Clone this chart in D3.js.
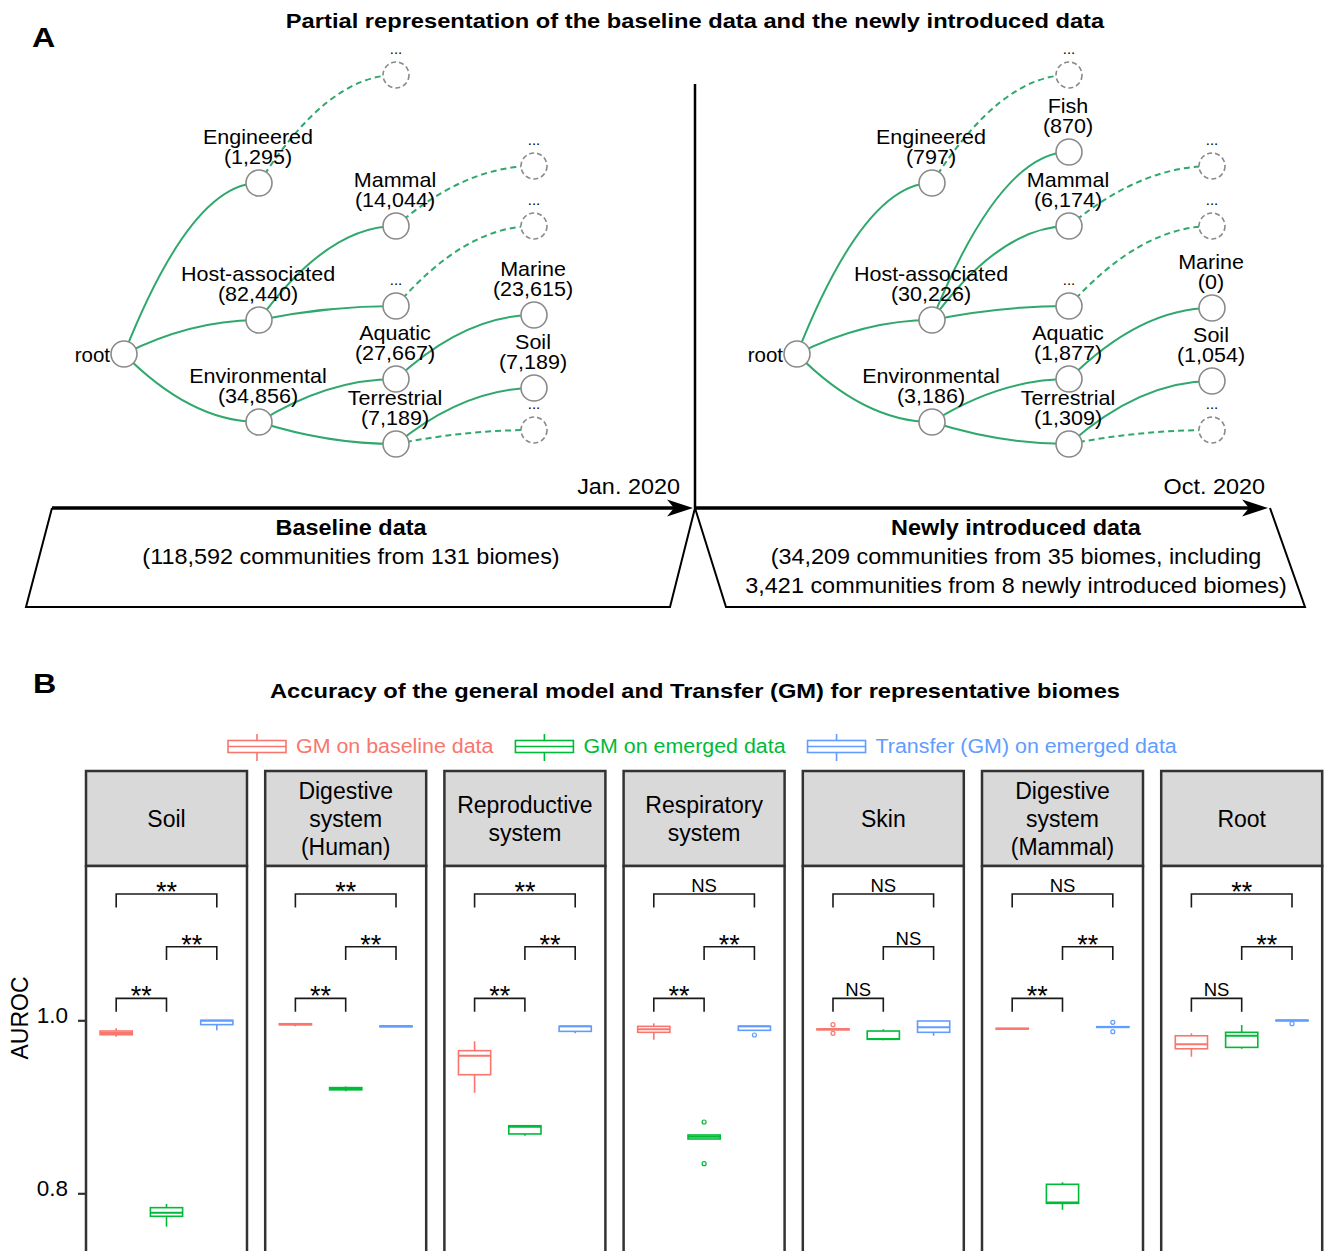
<!DOCTYPE html>
<html>
<head>
<meta charset="utf-8">
<script src="https://cdn.jsdelivr.net/npm/d3@7"></script>
<style>
    body { margin: 0; background: #fff; }
    svg text { font-family: "Liberation Sans", Arial, Helvetica, sans-serif; fill: #000; }
</style>
</head>
<body>
<div id="figure"></div>
<script>
"use strict"

/*
    two panel figure
    * A: baseline vs newly introduced biome trees + timeline
    * B: faceted AUROC boxplots with significance brackets
*/

// ---------- panel A data ----------
// [id, parent, depth, row, name, count, dashed]
const baselineTree = [
    ["root", null, 0, 354, "root", null, false],
    ["eng", "root", 1, 183, "Engineered", "1,295", false],
    ["host", "root", 1, 320, "Host-associated", "82,440", false],
    ["env", "root", 1, 422, "Environmental", "34,856", false],
    ["eng2", "eng", 2, 75, "...", null, true],
    ["mam", "host", 2, 226, "Mammal", "14,044", false],
    ["hdot", "host", 2, 306, "...", null, false],
    ["aqu", "env", 2, 379, "Aquatic", "27,667", false],
    ["ter", "env", 2, 444, "Terrestrial", "7,189", false],
    ["mam2", "mam", 3, 166, "...", null, true],
    ["hdot2", "hdot", 3, 226, "...", null, true],
    ["mar", "aqu", 3, 315, "Marine", "23,615", false],
    ["soil", "ter", 3, 388, "Soil", "7,189", false],
    ["ter2", "ter", 3, 430, "...", null, true],
]
const newTree = [
    ["root", null, 0, 354, "root", null, false],
    ["eng", "root", 1, 183, "Engineered", "797", false],
    ["host", "root", 1, 320, "Host-associated", "30,226", false],
    ["env", "root", 1, 422, "Environmental", "3,186", false],
    ["eng2", "eng", 2, 75, "...", null, true],
    ["fish", "host", 2, 152, "Fish", "870", false],
    ["mam", "host", 2, 226, "Mammal", "6,174", false],
    ["hdot", "host", 2, 306, "...", null, false],
    ["aqu", "env", 2, 379, "Aquatic", "1,877", false],
    ["ter", "env", 2, 444, "Terrestrial", "1,309", false],
    ["mam2", "mam", 3, 166, "...", null, true],
    ["hdot2", "hdot", 3, 226, "...", null, true],
    ["mar", "aqu", 3, 308, "Marine", "0", false],
    ["soil", "ter", 3, 381, "Soil", "1,054", false],
    ["ter2", "ter", 3, 430, "...", null, true],
]
const baselineDepthX = [124, 259, 396, 534]
const newDepthX = [797, 932, 1069, 1212]
const timelineDates = ["Jan. 2020", "Oct. 2020"]
const timelineHeads = ["Baseline data", "Newly introduced data"]
const timelineNotes = [
    ["(118,592 communities from 131 biomes)"],
    ["(34,209 communities from 35 biomes, including", "3,421 communities from 8 newly introduced biomes)"],
]

// ---------- panel B data ----------
const biomes = ["Soil", "Digestive\nsystem\n(Human)", "Reproductive\nsystem", "Respiratory\nsystem",
                "Skin", "Digestive\nsystem\n(Mammal)", "Root"]
const groups = ["GM on baseline data", "GM on emerged data", "Transfer (GM) on emerged data"]
const groupColors = ["#F8766D", "#00BA38", "#619CFF"]
// per biome: [baseline, emerged, transfer]
const boxMin = [
    [0.9810, 0.7614, 0.9884], [0.9930, 0.9180, 0.9922], [0.9163, 0.8666, 0.9850], [0.9775, 0.8628, 0.9884],
    [0.9890, 0.9769, 0.9821], [0.9899, 0.7810, 0.9918], [0.9579, 0.9671, 0.9997],
]
const boxQ1 = [
    [0.9833, 0.7734, 0.9950], [0.9948, 0.9196, 0.9925], [0.9371, 0.8686, 0.9872], [0.9861, 0.8628, 0.9884],
    [0.9890, 0.9780, 0.9861], [0.9899, 0.7884, 0.9918], [0.9671, 0.9687, 0.9997],
]
const boxMedian = [
    [0.9853, 0.7776, 0.9996], [0.9954, 0.9209, 0.9930], [0.9591, 0.8770, 0.9930], [0.9896, 0.8655, 0.9930],
    [0.9896, 0.9783, 0.9919], [0.9903, 0.7895, 0.9922], [0.9722, 0.9821, 1.0000],
]
const boxQ3 = [
    [0.9876, 0.7834, 1.0000], [0.9960, 0.9222, 0.9935], [0.9649, 0.8781, 0.9930], [0.9930, 0.8674, 0.9930],
    [0.9900, 0.9876, 0.9992], [0.9907, 0.8104, 0.9926], [0.9821, 0.9861, 1.0000],
]
const boxMax = [
    [0.9907, 0.7876, 1.0000], [0.9969, 0.9235, 0.9937], [0.9757, 0.8781, 0.9930], [0.9965, 0.8674, 0.9930],
    [0.9900, 0.9896, 0.9992], [0.9907, 0.8127, 0.9926], [0.9849, 0.9946, 1.0000],
]
const boxOutliers = [
    [[], [], []], [[], [], []], [[], [], []], [[], [0.8824, 0.8342], [0.9830]],
    [[0.9949, 0.9849], [], []], [[], [], [0.9977, 0.9868]], [[], [], [0.9961]],
]
// comparisons: baseline-emerged, emerged-transfer, baseline-transfer
const sigPairs = [[0, 1], [1, 2], [0, 2]]
const sigBarLevels = [1.0254, 1.0851, 1.1460]
const sigLabels = [
    ["**", "**", "**"], ["**", "**", "**"], ["**", "**", "**"], ["**", "**", "NS"],
    ["NS", "NS", "NS"], ["**", "**", "NS"], ["NS", "**", "**"],
]
const yTicks = [0.8, 1.0]

// ---------- setup ----------
const W = 1325, H = 1251
const treeGreen = "#2EA86C"
const nodeGray = "#8a8a8a"

const svg = d3.select("#figure")
    .append("svg")
        .attr("width", W)
        .attr("height", H)
        .attr("viewBox", `0 0 ${ W } ${ H }`)

// text helper: horizontally stretched text
function label(g, x, y, txt, opts = {}) {
    const o = Object.assign({ size: 20, weight: "normal", anchor: "middle", sx: 1, fill: "#000" }, opts)
    return g.append("text")
        .text(txt)
        .attr("text-anchor", o.anchor)
        .attr("font-size", o.size)
        .attr("font-weight", o.weight)
        .style("fill", o.fill)
        .attr("transform", `translate(${ x }, ${ y }) scale(${ o.sx }, 1)`)
}

// ---------- panel A ----------
const panelA = svg.append("g").attr("class", "panel-a")
label(panelA, 32, 47, "A", { size: 28, weight: "bold", anchor: "start", sx: 1.15 })
label(panelA, 695, 28, "Partial representation of the baseline data and the newly introduced data",
      { size: 20, weight: "bold", sx: 1.185 })

function drawTree(rows, depthX) {
    const x = d3.scaleOrdinal().domain([0, 1, 2, 3]).range(depthX)
    const y = d3.scaleLinear().domain([0, 500]).range([0, 500])
    const nodes = rows.map(r => ({ id: r[0], parent: r[1], depth: r[2], row: r[3], name: r[4], count: r[5], dashed: r[6] }))
    const byId = new Map(nodes.map(n => [n.id, n]))
    nodes.forEach(n => { n.x = x(n.depth); n.y = y(n.row) })
    const links = nodes.filter(n => n.parent).map(n => ({ source: byId.get(n.parent), target: n }))

    const g = panelA.append("g")
    const linkPath = d => {
        const p = d3.path()
        p.moveTo(d.source.x, d.source.y)
        p.quadraticCurveTo((d.source.x + d.target.x) / 2, d.target.y, d.target.x, d.target.y)
        return p.toString()
    }
    g.selectAll(".link")
        .data(links)
        .enter().append("path")
            .attr("class", "link")
            .attr("d", linkPath)
            .attr("fill", "none")
            .attr("stroke", treeGreen)
            .attr("stroke-width", 2)
            .attr("stroke-dasharray", d => d.target.dashed ? "6,4" : null)

    g.selectAll(".node")
        .data(nodes)
        .enter().append("circle")
            .attr("class", "node")
            .attr("cx", d => d.x)
            .attr("cy", d => d.y)
            .attr("r", 13)
            .attr("fill", "#fff")
            .attr("stroke", nodeGray)
            .attr("stroke-width", 1.6)
            .attr("stroke-dasharray", d => d.dashed ? "5,3" : null)

    nodes.forEach(n => {
        if (n.depth === 0) {
            label(g, n.x - 14, n.y + 7.5, n.name, { size: 20.5, anchor: "end" })
        } else if (n.count === null) {
            label(g, n.x, n.y - 21, n.name, { size: 15 })
        } else {
            label(g, n.x - 1, n.y - 39, n.name, { size: 20.5, sx: 1.05 })
            label(g, n.x - 1, n.y - 19, `(${ n.count })`, { size: 20.5, sx: 1.05 })
        }
    })
}
drawTree(baselineTree, baselineDepthX)
drawTree(newTree, newDepthX)

// divider + timeline
panelA.append("line")
    .attr("x1", 695).attr("x2", 695).attr("y1", 84).attr("y2", 508)
    .attr("stroke", "#000").attr("stroke-width", 2.5)

const timeline = [
    { outline: [[52, 508], [26, 607], [670, 607], [695, 508]], arrow: [52, 693], dateX: 680, cx: 351 },
    { outline: [[695, 508], [726, 607], [1305, 607], [1270, 508]], arrow: [695, 1268], dateX: 1265, cx: 1016 },
]
timeline.forEach((t, i) => {
    panelA.append("path")
        .attr("d", d3.line()(t.outline))
        .attr("fill", "none").attr("stroke", "#000").attr("stroke-width", 2)
    panelA.append("line")
        .attr("x1", t.arrow[0]).attr("x2", t.arrow[1] - 12)
        .attr("y1", 508).attr("y2", 508)
        .attr("stroke", "#000").attr("stroke-width", 3.5)
    const tip = t.arrow[1]
    panelA.append("path")
        .attr("d", d3.line()([[tip, 508], [tip - 26, 499.5], [tip - 19, 508], [tip - 26, 516.5]]) + "Z")
        .attr("fill", "#000")
    label(panelA, t.dateX, 494, timelineDates[i], { size: 21.5, anchor: "end", sx: 1.09 })
    label(panelA, t.cx, 535, timelineHeads[i], { size: 21.5, weight: "bold", sx: 1.09 })
    timelineNotes[i].forEach((line, j) => {
        label(panelA, t.cx, 564 + j * 28.5, line, { size: 21.5, sx: 1.09 })
    })
})

// ---------- panel B ----------
const panelB = svg.append("g").attr("class", "panel-b")
label(panelB, 33, 693, "B", { size: 28, weight: "bold", anchor: "start", sx: 1.15 })
label(panelB, 695, 698, "Accuracy of the general model and Transfer (GM) for representative biomes",
      { size: 20, weight: "bold", sx: 1.185 })

const frame = { stripTop: 771, stripBottom: 866, bottom: 1270 }
const y = d3.scaleLinear().domain([0.8, 1.0]).range([1193.3, 1020.3])
const facetX = d3.scaleBand().domain(d3.range(biomes.length)).range([86, 1322.2]).paddingInner(0.1016)
const groupX = d3.scalePoint().domain(d3.range(groups.length)).range([0, facetX.bandwidth()]).padding(0.6)
const boxW = groupX.step() * 0.64

// legend
const legend = panelB.append("g").attr("class", "legend")
let lx = 228
groups.forEach((name, i) => {
    const item = legend.append("g")
    const c = groupColors[i]
    item.append("line")
        .attr("x1", lx + 29).attr("x2", lx + 29).attr("y1", 734).attr("y2", 761)
        .attr("stroke", c).attr("stroke-width", 1.6)
    item.append("rect")
        .attr("x", lx).attr("y", 740.5).attr("width", 58).attr("height", 12)
        .attr("fill", "#fff").attr("stroke", c).attr("stroke-width", 1.6)
    item.append("line")
        .attr("x1", lx).attr("x2", lx + 58).attr("y1", 746.5).attr("y2", 746.5)
        .attr("stroke", c).attr("stroke-width", 1.6)
    const t = label(item, lx + 68, 752.5, name, { size: 20, anchor: "start", sx: 1.07, fill: c })
    lx += 68 + t.node().getComputedTextLength() * 1.07 + 22
})

// y axis
const yAxis = d3.axisLeft(y)
    .tickValues(yTicks)
    .tickFormat(d3.format(".1f"))
    .tickSize(8)
    .tickPadding(10)
const yAxG = panelB.append("g")
    .attr("class", "axis y-axis")
    .attr("transform", `translate(${ facetX(0) }, 0)`)
    .call(yAxis)
yAxG.select(".domain").remove()
yAxG.selectAll(".tick line").attr("stroke", "#333").attr("stroke-width", 2.2)
yAxG.selectAll(".tick text")
    .attr("font-size", 22.5)
    .attr("dy", "0.09em")
    .style("fill", "#000")

panelB.append("text")
    .text("AUROC")
    .attr("text-anchor", "middle")
    .attr("font-size", 23)
    .attr("transform", `translate(28, 1018) rotate(-90)`)

// facets
biomes.forEach((biome, i) => {
    const g = panelB.append("g").attr("transform", `translate(${ facetX(i) }, 0)`)
    const bw = facetX.bandwidth()

    // strip
    g.append("rect")
        .attr("x", 0).attr("y", frame.stripTop)
        .attr("width", bw).attr("height", frame.stripBottom - frame.stripTop)
        .attr("fill", "#D9D9D9").attr("stroke", "#333").attr("stroke-width", 2.5)
    const lines = biome.split("\n")
    const midY = (frame.stripTop + frame.stripBottom) / 2
    lines.forEach((ln, j) => {
        label(g, bw / 2, midY + 8 + (j - (lines.length - 1) / 2) * 28, ln, { size: 23 })
    })

    // panel body
    g.append("rect")
        .attr("x", 0).attr("y", frame.stripBottom)
        .attr("width", bw).attr("height", frame.bottom - frame.stripBottom)
        .attr("fill", "#fff").attr("stroke", "#333").attr("stroke-width", 2.5)

    // boxes
    groups.forEach((grp, k) => {
        const cx = groupX(k)
        const c = groupColors[k]
        const bx = g.append("g").attr("class", "box")
        bx.append("line")
            .attr("x1", cx).attr("x2", cx)
            .attr("y1", y(boxMin[i][k])).attr("y2", y(boxMax[i][k]))
            .attr("stroke", c).attr("stroke-width", 1.6)
        bx.append("rect")
            .attr("x", cx - boxW / 2).attr("width", boxW)
            .attr("y", y(boxQ3[i][k]))
            .attr("height", Math.max(0.6, y(boxQ1[i][k]) - y(boxQ3[i][k])))
            .attr("fill", "#fff").attr("stroke", c).attr("stroke-width", 1.6)
        bx.append("line")
            .attr("x1", cx - boxW / 2).attr("x2", cx + boxW / 2)
            .attr("y1", y(boxMedian[i][k])).attr("y2", y(boxMedian[i][k]))
            .attr("stroke", c).attr("stroke-width", 2)
        bx.selectAll(".outlier")
            .data(boxOutliers[i][k])
            .enter().append("circle")
                .attr("class", "outlier")
                .attr("cx", cx).attr("cy", d => y(d))
                .attr("r", 2)
                .attr("fill", "#fff").attr("stroke", c).attr("stroke-width", 1.2)
    })

    // significance brackets
    sigPairs.forEach((pair, k) => {
        const x1 = groupX(pair[0]), x2 = groupX(pair[1])
        const yb = y(sigBarLevels[k])
        const tip = 13.4
        g.append("path")
            .attr("d", d3.line()([[x1, yb + tip], [x1, yb], [x2, yb], [x2, yb + tip]]))
            .attr("fill", "none").attr("stroke", "#1a1a1a").attr("stroke-width", 1.6)
        const s = sigLabels[i][k]
        if (s === "NS") {
            label(g, (x1 + x2) / 2, yb - 2, s, { size: 18.5 })
        } else {
            label(g, (x1 + x2) / 2, yb + 7, s, { size: 27 })
        }
    })
})
</script>
</body>
</html>
